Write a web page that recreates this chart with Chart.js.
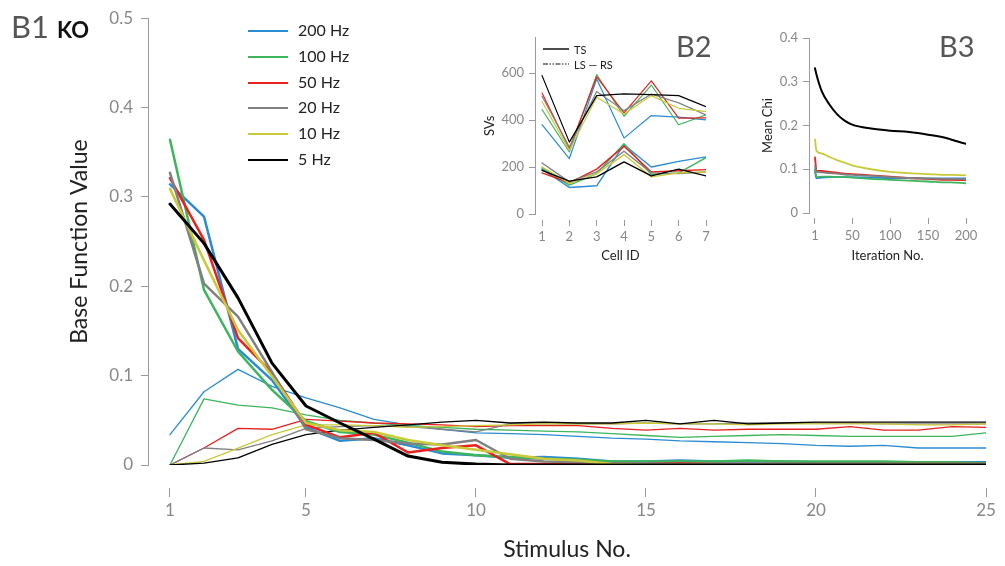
<!DOCTYPE html>
<html>
<head>
<meta charset="utf-8">
<script src="https://cdn.jsdelivr.net/npm/chart.js@4.4.1/dist/chart.umd.min.js"></script>
<style>
  body { margin: 0; background: #fff; }
  #wrap { position: relative; width: 1005px; height: 566px; font-family: Lato, "Open Sans", sans-serif; }
  canvas { position: absolute; }
  .lbl { position: absolute; white-space: nowrap; line-height: 1; }
</style>
</head>
<body>
<div id="wrap">
  <canvas id="main" width="1005" height="566" style="left:0;top:0;width:1005px;height:566px"></canvas>
  <canvas id="svs" width="250" height="250" style="left:480px;top:25px;width:250px;height:250px"></canvas>
  <canvas id="chi" width="245" height="250" style="left:760px;top:25px;width:245px;height:250px"></canvas>
  <div class="lbl" style="left:11px;top:11px;font-size:31px;color:#555">B1 <span style="font-size:22px;color:#111;font-weight:700">KO</span></div>
  <div class="lbl" style="left:676px;top:31px;font-size:29px;color:#555">B2</div>
  <div class="lbl" style="left:939px;top:31px;font-size:29px;color:#555">B3</div>
  <div id="legend"></div>
  <div id="legend2"></div>
</div>
<script>
// ---- main panel: base functions per stimulus ----
const STIMULI = [1, 2, 3, 4, 5, 6, 7, 8, 9, 10, 11, 12, 13, 14, 15, 16, 17, 18, 19, 20, 21, 22, 23, 24, 25];
const X_TICKS = [1, 5, 10, 15, 20, 25];
const Y_TICKS = [0, 0.1, 0.2, 0.3, 0.4, 0.5];

const FREQ_LABELS = ["200 Hz", "100 Hz", "50 Hz", "20 Hz", "10 Hz", "5 Hz"];
const FREQ_COLORS = ["#2a8cd2", "#3db55c", "#e8211f", "#808080", "#c9c93a", "#000000"];

// fast (decaying) base function, thick lines
const fast200 = [0.314, 0.278, 0.130, 0.095, 0.042, 0.027, 0.030, 0.022, 0.013, 0.011, 0.008, 0.009, 0.007, 0.004, 0.004, 0.005, 0.004, 0.004, 0.004, 0.003, 0.003, 0.003, 0.003, 0.003, 0.003];
const fast100 = [0.364, 0.196, 0.127, 0.084, 0.049, 0.037, 0.034, 0.025, 0.015, 0.011, 0.009, 0.007, 0.006, 0.004, 0.004, 0.004, 0.004, 0.005, 0.004, 0.004, 0.004, 0.004, 0.003, 0.003, 0.002];
const fast50  = [0.321, 0.252, 0.142, 0.103, 0.045, 0.031, 0.036, 0.014, 0.019, 0.022, 0.001, 0.001, 0.001, 0.001, 0.002, 0.002, 0.001, 0.001, 0.001, 0.001, 0.001, 0.001, 0.001, 0.001, 0.001];
const fast20  = [0.327, 0.203, 0.166, 0.104, 0.040, 0.030, 0.028, 0.024, 0.023, 0.028, 0.007, 0.004, 0.003, 0.002, 0.002, 0.001, 0.001, 0.001, 0.001, 0.001, 0.001, 0.001, 0.001, 0.001, 0.001];
const fast10  = [0.309, 0.229, 0.151, 0.099, 0.047, 0.039, 0.037, 0.028, 0.022, 0.017, 0.012, 0.007, 0.005, 0.001, 0, 0, 0, 0, 0, 0, 0, 0, 0, 0, 0];
const fast5   = [0.292, 0.248, 0.187, 0.114, 0.066, 0.047, 0.029, 0.010, 0.003, 0.001, 0, 0, 0, 0, 0, 0, 0, 0, 0, 0, 0, 0, 0, 0, 0];

// slow (rising) base function, thin lines
const slow200 = [0.034, 0.082, 0.107, 0.088, 0.075, 0.064, 0.051, 0.045, 0.040, 0.036, 0.035, 0.034, 0.032, 0.030, 0.029, 0.027, 0.026, 0.025, 0.024, 0.022, 0.021, 0.022, 0.019, 0.019, 0.019];
const slow100 = [0, 0.074, 0.067, 0.064, 0.056, 0.050, 0.047, 0.044, 0.042, 0.040, 0.039, 0.038, 0.037, 0.035, 0.033, 0.031, 0.032, 0.033, 0.034, 0.033, 0.032, 0.032, 0.032, 0.032, 0.036];
const slow50  = [0, 0.019, 0.041, 0.040, 0.051, 0.049, 0.047, 0.046, 0.045, 0.043, 0.044, 0.044, 0.044, 0.041, 0.039, 0.041, 0.039, 0.040, 0.040, 0.040, 0.043, 0.039, 0.039, 0.043, 0.042];
const slow20  = [0, 0.019, 0.017, 0.027, 0.041, 0.043, 0.044, 0.043, 0.040, 0.037, 0.046, 0.046, 0.046, 0.046, 0.047, 0.046, 0.046, 0.047, 0.047, 0.047, 0.047, 0.046, 0.046, 0.046, 0.046];
const slow10  = [0, 0.004, 0.019, 0.034, 0.045, 0.045, 0.044, 0.042, 0.043, 0.044, 0.045, 0.046, 0.046, 0.046, 0.047, 0.046, 0.046, 0.045, 0.046, 0.046, 0.046, 0.046, 0.045, 0.045, 0.046];
const slow5   = [0, 0.002, 0.008, 0.023, 0.034, 0.039, 0.042, 0.045, 0.048, 0.050, 0.047, 0.048, 0.047, 0.047, 0.050, 0.046, 0.050, 0.046, 0.047, 0.048, 0.048, 0.048, 0.048, 0.048, 0.048];

// ---- inset B2: SVs per cell ----
const CELL_IDS = [1, 2, 3, 4, 5, 6, 7];
const SV_TICKS = [0, 200, 400, 600];
const lsrs200 = [380, 236, 575, 323, 419, 412, 401];
const lsrs100 = [445, 264, 593, 416, 549, 380, 422];
const lsrs50  = [515, 278, 584, 430, 567, 408, 409];
const lsrs20  = [501, 285, 521, 440, 511, 473, 422];
const lsrs10  = [479, 271, 497, 426, 504, 450, 436];
const lsrs5   = [589, 306, 504, 511, 508, 504, 457];
const ts200 = [191, 113, 120, 295, 200, 224, 243];
const ts100 = [196, 123, 172, 299, 168, 175, 240];
const ts50  = [175, 133, 191, 288, 179, 184, 189];
const ts20  = [217, 137, 179, 267, 175, 172, 179];
const ts10  = [200, 130, 172, 253, 158, 175, 179];
const ts5   = [186, 140, 158, 222, 162, 191, 162];

// ---- inset B3: mean chi per iteration ----
const ITERATIONS = [1, 3, 10, 20, 30, 40, 50, 75, 100, 125, 150, 175, 180, 200];
const ITER_TICKS = [1, 50, 100, 150, 200];
const CHI_TICKS = [0, 0.1, 0.2, 0.3, 0.4];
const chi200 = [0.095, 0.079, 0.081, 0.082, 0.082, 0.082, 0.082, 0.081, 0.080, 0.080, 0.079, 0.079, 0.079, 0.079];
const chi100 = [0.100, 0.082, 0.083, 0.083, 0.082, 0.082, 0.081, 0.078, 0.076, 0.074, 0.072, 0.070, 0.070, 0.068];
const chi50  = [0.127, 0.097, 0.096, 0.094, 0.092, 0.090, 0.089, 0.086, 0.083, 0.080, 0.078, 0.076, 0.076, 0.075];
const chi20  = [0.108, 0.094, 0.093, 0.091, 0.090, 0.088, 0.087, 0.085, 0.082, 0.080, 0.079, 0.078, 0.078, 0.077];
const chi10  = [0.168, 0.142, 0.136, 0.128, 0.121, 0.115, 0.109, 0.100, 0.094, 0.091, 0.089, 0.087, 0.087, 0.086];
const chi5   = [0.331, 0.316, 0.278, 0.248, 0.226, 0.211, 0.202, 0.193, 0.188, 0.185, 0.179, 0.171, 0.168, 0.158];

const FONT = "Lato, 'Open Sans', sans-serif";
const TICK_GREY = "#888";
const AXIS_GREY = "#9a9a9a";

const toPoints = (xs, ys) => ys.map((y, i) => ({ x: xs[i], y }));

// first dataset is drawn on top, so go from 5 Hz (black) back to 200 Hz
function buildSets(xs, groups, widths) {
  const sets = [];
  groups.forEach((group, g) => {
    for (let i = group.length - 1; i >= 0; i--) {
      sets.push({ data: toPoints(xs, group[i]), borderColor: FREQ_COLORS[i], borderWidth: widths[g](i) });
    }
  });
  return sets;
}

function xAxis(o) {
  return {
    type: "linear", min: o.min, max: o.max,
    afterBuildTicks: s => { s.ticks = o.ticks.map(v => ({ value: v })); },
    afterFit: s => { s.height = o.height; },
    border: { display: false },
    grid: { drawOnChartArea: false, tickLength: o.gap + o.len, tickBorderDash: [0, o.gap, o.len, 200], tickColor: AXIS_GREY, tickWidth: 1 },
    ticks: { color: TICK_GREY, font: { family: FONT, size: o.size }, padding: o.pad, maxRotation: 0, autoSkip: false },
    title: { display: true, text: o.title, color: "#222", font: { family: FONT, size: o.titleSize }, padding: { top: 0, bottom: o.titlePad } }
  };
}

function yAxis(o) {
  return {
    min: 0, max: o.max,
    afterBuildTicks: s => { s.ticks = o.ticks.map(v => ({ value: v })); },
    afterFit: s => { s.width = o.width; },
    border: { display: true, color: AXIS_GREY, width: 1 },
    grid: { drawOnChartArea: false, tickLength: o.len, tickColor: AXIS_GREY },
    ticks: { color: TICK_GREY, font: { family: FONT, size: o.size }, padding: o.pad, callback: o.fmt },
    title: { display: true, text: o.title, color: "#222", font: { family: FONT, size: o.titleSize }, padding: { top: o.titlePad, bottom: 0 } }
  };
}

const baseOptions = padding => ({
  responsive: false,
  animation: false,
  layout: { padding },
  elements: { point: { radius: 0 }, line: { tension: 0, borderCapStyle: "round", borderJoinStyle: "round" } },
  plugins: { legend: { display: false }, tooltip: { enabled: false } }
});

new Chart(document.getElementById("main"), {
  type: "line",
  data: {
    datasets: buildSets(STIMULI,
      [[fast200, fast100, fast50, fast20, fast10, fast5], [slow200, slow100, slow50, slow20, slow10, slow5]],
      [i => (i === 5 ? 3 : 2.5), () => 1.3])
  },
  options: {
    ...baseOptions({ top: 18, right: 19, left: 0, bottom: 0 }),
    scales: {
      x: xAxis({ min: 0.353, max: 25, ticks: X_TICKS, height: 101, gap: 23, len: 9, size: 17, pad: 3, title: "Stimulus No.", titleSize: 23, titlePad: 3 }),
      y: yAxis({ max: 0.5, ticks: Y_TICKS, width: 148, len: 7, size: 17, pad: 8, fmt: v => (v === 0 ? "0" : v.toFixed(1)), title: "Base Function Value", titleSize: 23, titlePad: 66 })
    }
  }
});

new Chart(document.getElementById("svs"), {
  type: "line",
  data: {
    datasets: buildSets(CELL_IDS,
      [[ts200, ts100, ts50, ts20, ts10, ts5], [lsrs200, lsrs100, lsrs50, lsrs20, lsrs10, lsrs5]],
      [() => 1.4, () => 1.2])
  },
  options: {
    ...baseOptions({ top: 12, right: 24, left: 0, bottom: 0 }),
    scales: {
      x: xAxis({ min: 0.743, max: 7, ticks: CELL_IDS, height: 61, gap: 6, len: 6, size: 13, pad: 3, title: "Cell ID", titleSize: 13, titlePad: 11 }),
      y: yAxis({ max: 750, ticks: SV_TICKS, width: 55, len: 6, size: 13, pad: 5, fmt: v => String(v), title: "SVs", titleSize: 13, titlePad: 2 })
    }
  }
});

new Chart(document.getElementById("chi"), {
  type: "line",
  data: {
    datasets: buildSets(ITERATIONS,
      [[chi200, chi100, chi50, chi20, chi10, chi5]],
      [i => (i === 5 ? 2 : 1.8)])
  },
  options: {
    ...baseOptions({ top: 13, right: 39, left: 0, bottom: 0 }),
    elements: { point: { radius: 0 }, line: { cubicInterpolationMode: "monotone", borderCapStyle: "round" } },
    scales: {
      x: xAxis({ min: -6.9, max: 200, ticks: ITER_TICKS, height: 62, gap: 5, len: 6, size: 13, pad: 4, title: "Iteration No.", titleSize: 13, titlePad: 11 }),
      y: yAxis({ max: 0.4, ticks: CHI_TICKS, width: 49, len: 6, size: 13, pad: 5, fmt: v => (v === 0 ? "0" : v.toFixed(1)), title: "Mean Chi", titleSize: 13, titlePad: 0 })
    }
  }
});

// main legend, one row per frequency
const legend = document.getElementById("legend");
FREQ_LABELS.forEach((label, i) => {
  const top = 31 + i * 25.8;
  legend.insertAdjacentHTML("beforeend",
    `<div class="lbl" style="left:248px;top:${top - 1}px;width:40px;height:2px;background:${FREQ_COLORS[i]}"></div>` +
    `<div class="lbl" style="left:298px;top:${top - 9}px;font-size:16px;color:#222">${label}</div>`);
});

// B2 legend: line styles
document.getElementById("legend2").innerHTML =
  `<svg class="lbl" style="left:542px;top:44px" width="28" height="26">
     <line x1="1" y1="5" x2="27" y2="5" stroke="#111" stroke-width="1.5"/>
     <line x1="1" y1="20" x2="27" y2="20" stroke="#111" stroke-width="1.2" stroke-dasharray="5 1.5 1.5 1.5 1.5 1.5"/>
   </svg>
   <div class="lbl" style="left:574px;top:44px;font-size:11px;color:#222">TS</div>
   <div class="lbl" style="left:574px;top:59px;font-size:11px;color:#222">LS — RS</div>`;
</script>
</body>
</html>
